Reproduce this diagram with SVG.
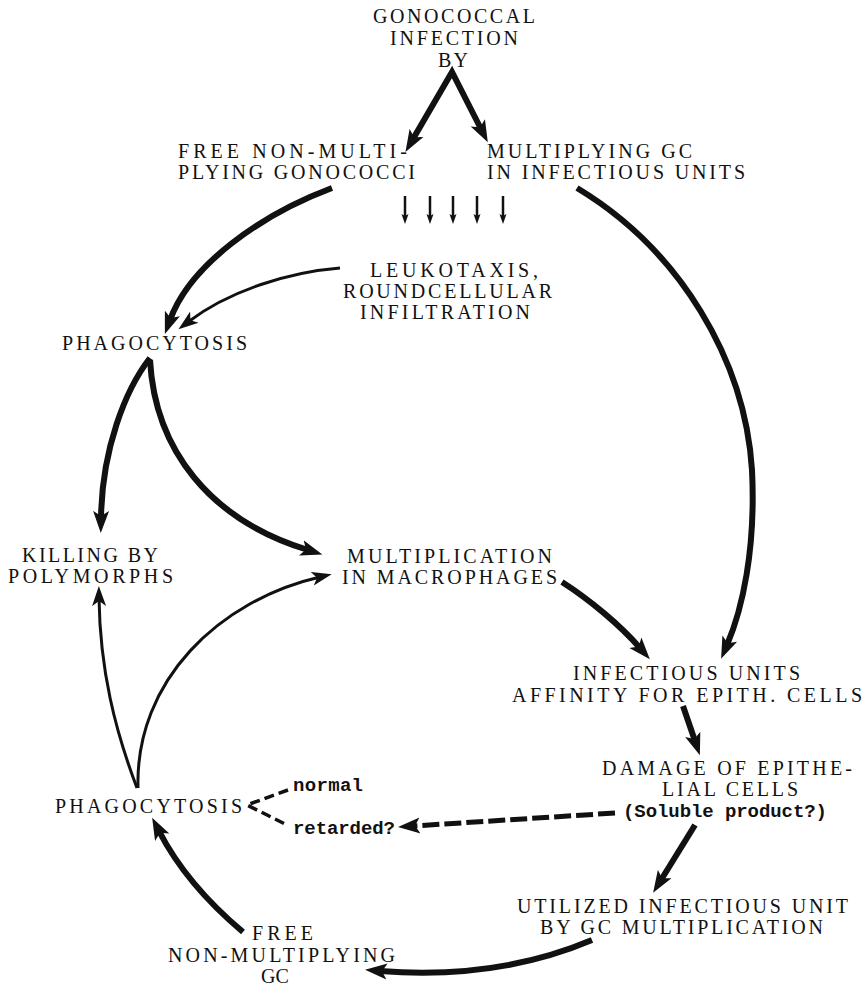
<svg xmlns="http://www.w3.org/2000/svg" width="868" height="987" viewBox="0 0 868 987">
<style>
  .t { font-family: "Liberation Serif", "Times New Roman", serif; font-size: 20px; fill: #111; }
  .s { font-family: "Liberation Mono", "Courier New", monospace; font-size: 19px; font-weight: bold; fill: #111; }
  .thick { fill: none; stroke: #111; stroke-width: 6; stroke-linecap: butt; }
  .thin { fill: none; stroke: #111; stroke-width: 3; }
  .small { fill: none; stroke: #111; stroke-width: 2.5; }
  .dash { fill: none; stroke: #111; stroke-width: 5; stroke-dasharray: 17 5; }
  .dash2 { fill: none; stroke: #111; stroke-width: 3.5; stroke-dasharray: 10 5; }
</style>
<defs>
  <marker id="ah" viewBox="0 -9 23 18" refX="7" refY="0" markerWidth="23" markerHeight="18" markerUnits="userSpaceOnUse" orient="auto-start-reverse">
    <path d="M0,-8 L22,0 L0,8 L5,0 Z" fill="#111"/>
  </marker>
  <marker id="aht" viewBox="0 -8 21 16" refX="8" refY="0" markerWidth="21" markerHeight="16" markerUnits="userSpaceOnUse" orient="auto">
    <path d="M0,-7 L20,0 L0,7 L5,0 Z" fill="#111"/>
  </marker>
  <marker id="ahs" viewBox="0 -4 11 8" refX="2" refY="0" markerWidth="11" markerHeight="8" markerUnits="userSpaceOnUse" orient="auto">
    <path d="M0,-3.5 L10,0 L0,3.5 L2,0 Z" fill="#111"/>
  </marker>
</defs>
<rect width="868" height="987" fill="#fff"/>

<g id="connectors">
  <path class="thick" d="M413,139 L452,72 L481,129" marker-start="url(#ah)" marker-end="url(#ah)" stroke-linejoin="miter"/>
  <path class="small" d="M405,196 L405,216" marker-end="url(#ahs)"/>
  <path class="small" d="M430,196 L430,216" marker-end="url(#ahs)"/>
  <path class="small" d="M453,196 L453,216" marker-end="url(#ahs)"/>
  <path class="small" d="M477,196 L477,216" marker-end="url(#ahs)"/>
  <path class="small" d="M503,196 L503,216" marker-end="url(#ahs)"/>
  <path class="thick" d="M332,188 C260,215 190,265 170,320" marker-end="url(#ah)"/>
  <path class="thin" d="M340,268 C290,272 230,290 188,322" marker-end="url(#aht)"/>
  <path class="thick" d="M577,188 C680,250 745,360 752,470 C756,550 742,610 727,645" marker-end="url(#ah)"/>
  <path class="thick" d="M150,358 C125,390 102,450 101,518" marker-end="url(#ah)"/>
  <path class="thick" d="M150,360 C155,450 210,520 308,550" marker-end="url(#ah)"/>
  <path class="thick" d="M562,582 C590,600 620,625 640,648" marker-end="url(#ah)"/>
  <path class="thin" d="M137,788 C115,730 100,670 99,598" marker-end="url(#aht)"/>
  <path class="thin" d="M138,788 C135,680 220,600 320,577" marker-end="url(#aht)"/>
  <path class="thick" d="M683,706 L695,741" marker-end="url(#ah)"/>
  <path class="thick" d="M695,825 L661,880" marker-end="url(#ah)"/>
  <path class="dash" d="M615,813 L413,826" marker-end="url(#ah)"/>
  <path class="dash2" d="M288,790 L247,805 L287,825"/>
  <path class="thick" d="M592,940 C540,962 470,978 380,971" marker-end="url(#ah)"/>
  <path class="thick" d="M243,932 C205,900 178,868 159,831" marker-end="url(#ah)"/>
</g>

<g id="n-infection">
  <text class="t" x="373" y="23" textLength="162" lengthAdjust="spacing">GONOCOCCAL</text>
  <text class="t" x="390" y="45" textLength="128" lengthAdjust="spacing">INFECTION</text>
  <text class="t" x="438" y="67" textLength="30" lengthAdjust="spacing">BY</text>
</g>
<g id="n-free-top">
  <text class="t" x="178" y="158" textLength="229" lengthAdjust="spacing">FREE NON-MULTI-</text>
  <text class="t" x="178" y="179" textLength="237" lengthAdjust="spacing">PLYING GONOCOCCI</text>
</g>
<g id="n-multiplying">
  <text class="t" x="487" y="158" textLength="205" lengthAdjust="spacing">MULTIPLYING GC</text>
  <text class="t" x="487" y="179" textLength="258" lengthAdjust="spacing">IN INFECTIOUS UNITS</text>
</g>
<g id="n-leukotaxis">
  <text class="t" x="370" y="277" textLength="168" lengthAdjust="spacing">LEUKOTAXIS,</text>
  <text class="t" x="343" y="298" textLength="209" lengthAdjust="spacing">ROUNDCELLULAR</text>
  <text class="t" x="360" y="319" textLength="170" lengthAdjust="spacing">INFILTRATION</text>
</g>
<g id="n-phago-top">
  <text class="t" x="62" y="350" textLength="185" lengthAdjust="spacing">PHAGOCYTOSIS</text>
</g>
<g id="n-killing">
  <text class="t" x="22" y="562" textLength="136" lengthAdjust="spacing">KILLING BY</text>
  <text class="t" x="8" y="583" textLength="165" lengthAdjust="spacing">POLYMORPHS</text>
</g>
<g id="n-macrophages">
  <text class="t" x="347" y="563" textLength="205" lengthAdjust="spacing">MULTIPLICATION</text>
  <text class="t" x="342" y="584" textLength="215" lengthAdjust="spacing">IN MACROPHAGES</text>
</g>
<g id="n-affinity">
  <text class="t" x="573" y="680" textLength="227" lengthAdjust="spacing">INFECTIOUS UNITS</text>
  <text class="t" x="512" y="702" textLength="350" lengthAdjust="spacing">AFFINITY FOR EPITH. CELLS</text>
</g>
<g id="n-damage">
  <text class="t" x="602" y="775" textLength="250" lengthAdjust="spacing">DAMAGE OF EPITHE-</text>
  <text class="t" x="662" y="796" textLength="136" lengthAdjust="spacing">LIAL CELLS</text>
  <text class="s" x="623" y="817" textLength="204" lengthAdjust="spacing">(Soluble product?)</text>
</g>
<g id="n-phago-bottom">
  <text class="t" x="55" y="813" textLength="187" lengthAdjust="spacing">PHAGOCYTOSIS</text>
  <text class="s" x="293" y="791" textLength="70" lengthAdjust="spacing">normal</text>
  <text class="s" x="293" y="834" textLength="102" lengthAdjust="spacing">retarded?</text>
</g>
<g id="n-utilized">
  <text class="t" x="517" y="913" textLength="331" lengthAdjust="spacing">UTILIZED INFECTIOUS UNIT</text>
  <text class="t" x="540" y="934" textLength="283" lengthAdjust="spacing">BY GC MULTIPLICATION</text>
</g>
<g id="n-free-bottom">
  <text class="t" x="252" y="940" textLength="61" lengthAdjust="spacing">FREE</text>
  <text class="t" x="168" y="962" textLength="227" lengthAdjust="spacing">NON-MULTIPLYING</text>
  <text class="t" x="261" y="983">GC</text>
</g>
</svg>
